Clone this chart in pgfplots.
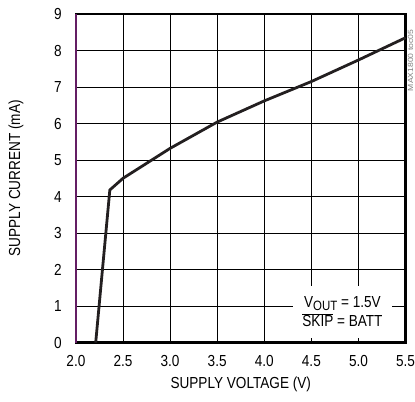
\documentclass[border=0pt]{standalone}
\usepackage{fontspec}
\setmainfont{Liberation Sans}[FakeStretch=0.85]
\usepackage{pgfplots}
\pgfplotsset{compat=1.18}
\definecolor{curve}{RGB}{35,31,32}
\definecolor{leftline}{RGB}{100,30,100}
\begin{document}
\begin{tikzpicture}
\begin{axis}[
  scale only axis, width=330pt, height=329pt,
  xmin=2, xmax=5.5, ymin=0, ymax=9,
  xtick={2,2.5,3,3.5,4,4.5,5,5.5},
  xticklabels={2.0,2.5,3.0,3.5,4.0,4.5,5.0,5.5},
  ytick={0,1,2,3,4,5,6,7,8,9},
  /pgf/number format/assume math mode=true,
  grid=major, major grid style={black, line width=0.8pt},
  axis line style={line width=2.6pt, black},
  tick style={draw=none},
  ticklabel style={font=\fontsize{16}{16}\selectfont},
  xticklabel style={inner sep=0pt, yshift=-13pt},
  yticklabel style={inner sep=0pt, xshift=-14pt},
  clip=false,
]
\node[fill=white, minimum width=100pt, minimum height=52pt, inner sep=0pt, align=center,
  font=\fontsize{16}{17}\selectfont] at (axis cs:4.83,0.85)
  {V\raisebox{-0.3ex}{\fontsize{13.5}{13}\selectfont OUT} = 1.5V\\[2pt] $\overline{\mbox{SKIP}}$ = BATT};
\addplot[curve, line width=2.8pt, line join=round] coordinates {
 (2.21,0) (2.36,4.18) (2.5,4.5) (3.0,5.32) (3.5,6.04) (4.0,6.62) (4.5,7.15) (5.0,7.74) (5.5,8.35)};
\draw[leftline, line width=1.2pt] (rel axis cs:0,0) -- (rel axis cs:0,1);
\node[rotate=90, anchor=west, text=gray, inner sep=0pt, font=\fontsize{7.5}{8}\selectfont]
  at ([xshift=5pt]rel axis cs:1,0.765) {\scalebox{1.35}[1]{MAX1800 toc05}};
\node[font=\fontsize{16}{16}\selectfont] at ([yshift=-42pt]rel axis cs:0.5,0) {SUPPLY VOLTAGE (V)};
\node[rotate=90, font=\fontsize{16}{16}\selectfont] at ([xshift=-60pt]rel axis cs:0,0.5) {SUPPLY CURRENT (mA)};
\path ([xshift=-76pt,yshift=-59pt]rel axis cs:0,0) rectangle ([xshift=9pt,yshift=14pt]rel axis cs:1,1);
\end{axis}
\end{tikzpicture}
\end{document}
